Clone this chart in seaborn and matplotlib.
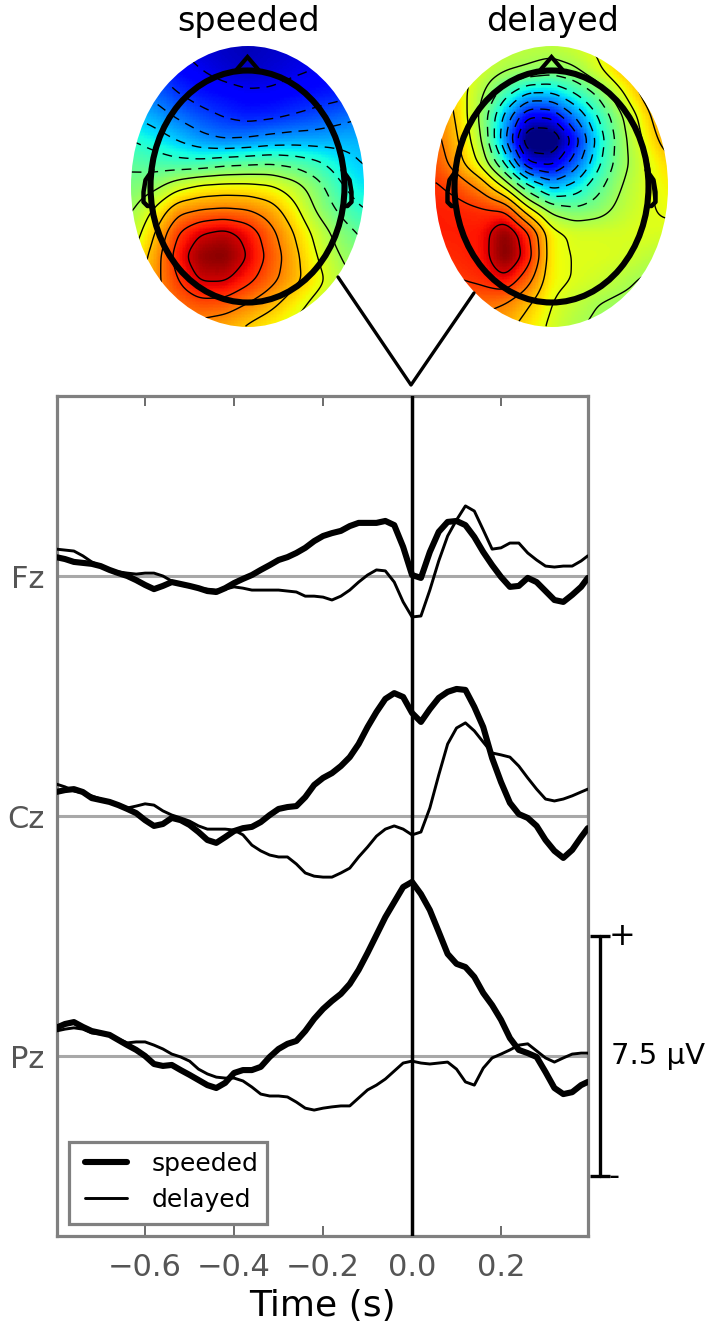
"""
Response-locked ERPs at Fz, Cz and Pz for speeded and delayed trials,
with the two scalp maps at time zero above them.
"""

import numpy as np
import matplotlib
matplotlib.use("Agg")
import matplotlib.pyplot as plt
from matplotlib.lines import Line2D
from matplotlib.patches import Ellipse, Rectangle
import seaborn as sns


CHANNELS = ["Fz", "Cz", "Pz"]
CHANNEL_OFFSETS = [7.5, 0.0, -7.5]
XTICKS = [-0.6, -0.4, -0.2, 0.0, 0.2]
SCALE_UV = 7.5

# sample times, last one is the end of the epoch
time_s = np.append(np.arange(-40, 20) * 0.02, 0.395)

# amplitudes in microvolts
fz_speeded = [
    .59, .53, .44, .41, .38, .31, .19, .09, 0, -.13, -.28, -.41, -.31, -.19, -.25, -.31,
    -.38, -.47, -.5, -.38, -.22, -.09, .03, .19, .34, .5, .59, .72, .88, 1.09, 1.25, 1.34,
    1.41, 1.56, 1.66, 1.66, 1.66, 1.72, 1.59, .91, .03, -.06, .75, 1.38, 1.69, 1.72, 1.59,
    1.22, .75, .34, -.03, -.34, -.31, -.06, -.19, -.47, -.75, -.81, -.59, -.34, -.06,
]
fz_delayed = [
    .84, .81, .78, .63, .44, .31, .19, .13, .09, .06, .09, .09, 0, -.16, -.28, -.34,
    -.38, -.41, -.44, -.41, -.34, -.38, -.44, -.44, -.44, -.44, -.47, -.5, -.63, -.63, -.66, -.75,
    -.63, -.44, -.19, .03, .19, .16, -.19, -.81, -1.28, -1.25, -.44, .47, 1.25, 1.75, 2.19,
    2.03, 1.44, .84, .88, 1.03, 1.03, .72, .5, .31, .28, .31, .31, .47, .63,
]
cz_speeded = [
    .75, .81, .84, .75, .56, .5, .44, .34, .22, .09, -.13, -.31, -.25, -.06, -.13, -.28,
    -.5, -.75, -.84, -.66, -.47, -.38, -.34, -.19, .03, .22, .28, .31, .59, .97, 1.19, 1.34,
    1.56, 1.84, 2.25, 2.78, 3.25, 3.66, 3.84, 3.72, 3.22, 2.94, 3.34, 3.69, 3.88, 3.97, 3.94,
    3.41, 2.78, 1.81, 1.06, .41, .06, -.06, -.31, -.75, -1.09, -1.31, -1.06, -.66, -.38,
]
cz_delayed = [
    1.0, .91, .78, .72, .63, .53, .44, .34, .25, .31, .38, .34, .16, .03, -.06, -.16,
    -.31, -.41, -.41, -.41, -.44, -.59, -.91, -1.09, -1.22, -1.28, -1.28, -1.5, -1.78, -1.88, -1.91, -1.91,
    -1.78, -1.63, -1.28, -.97, -.63, -.41, -.31, -.41, -.59, -.5, .25, 1.28, 2.25, 2.75, 2.91,
    2.66, 2.31, 1.97, 1.91, 1.84, 1.56, 1.19, .84, .53, .47, .53, .63, .75, .84,
]
pz_speeded = [
    .88, 1.0, 1.06, .91, .78, .72, .66, .5, .34, .19, 0, -.25, -.31, -.28, -.44, -.59,
    -.75, -.91, -1.0, -.84, -.53, -.44, -.44, -.34, -.03, .22, .38, .47, .78, 1.16, 1.47, 1.72,
    1.94, 2.25, 2.69, 3.22, 3.78, 4.34, 4.81, 5.28, 5.44, 5.06, 4.56, 3.88, 3.19, 2.88, 2.78,
    2.47, 1.97, 1.59, 1.13, .56, .19, .09, -.03, -.5, -1.0, -1.19, -1.13, -.91, -.81,
]
pz_delayed = [
    .78, .84, .88, .84, .72, .69, .66, .53, .41, .44, .44, .34, .22, .06, -.03, -.16,
    -.41, -.56, -.66, -.69, -.69, -.78, -.97, -1.19, -1.25, -1.25, -1.28, -1.44, -1.63, -1.69, -1.63, -1.59,
    -1.56, -1.56, -1.31, -1.06, -.91, -.72, -.47, -.22, -.16, -.22, -.25, -.22, -.19, -.41, -.81,
    -.91, -.38, -.06, .06, .19, .34, .38, .16, -.06, -.19, -.06, .06, .09, .09,
]

# scalp maps: normalised potential on a coarse grid over the map's bounding box
speeded_map = np.array([
    [-.60, -.70, -.80, -.85, -.88, -.90, -.88, -.85, -.80, -.75, -.70],
    [-.55, -.65, -.75, -.80, -.85, -.88, -.85, -.82, -.80, -.75, -.70],
    [-.45, -.55, -.65, -.72, -.75, -.78, -.78, -.75, -.72, -.70, -.65],
    [-.35, -.42, -.52, -.60, -.66, -.70, -.68, -.64, -.60, -.55, -.50],
    [-.20, -.27, -.36, -.45, -.50, -.48, -.44, -.42, -.42, -.40, -.40],
    [-.08, -.12, -.15, -.15, -.10, -.08, -.06, -.10, -.17, -.28, -.36],
    [.00, .06, .20, .28, .30, .30, .27, .17, .01, -.18, -.30],
    [.08, .27, .50, .55, .57, .55, .47, .30, .08, -.08, -.20],
    [.15, .40, .70, .85, .90, .80, .60, .40, .20, .03, -.08],
    [.25, .47, .78, .97, 1.0, .85, .65, .45, .25, .10, .00],
    [.30, .50, .70, .87, .87, .75, .60, .45, .30, .15, .08],
    [.35, .50, .60, .66, .65, .55, .45, .32, .20, .12, .08],
    [.35, .45, .50, .50, .45, .38, .30, .22, .15, .10, .08],
])
delayed_map = np.array([
    [.35, .32, .22, .18, .16, .16, .20, .28, .38, .48, .50],
    [.42, .33, .20, .12, .08, .03, .08, .22, .40, .50, .55],
    [.52, .32, .12, -.14, -.36, -.36, -.20, -.02, .22, .45, .62],
    [.57, .36, .05, -.40, -.80, -.78, -.50, -.20, .08, .32, .58],
    [.60, .40, .10, -.48, -1.12, -1.12, -.75, -.30, .04, .27, .48],
    [.65, .45, .20, -.22, -.80, -.85, -.58, -.24, .04, .22, .36],
    [.72, .65, .50, .22, -.16, -.40, -.30, -.10, .10, .22, .30],
    [.76, .75, .72, .68, .30, .05, -.02, .03, .15, .23, .27],
    [.76, .76, .78, 1.0, .72, .30, .22, .22, .22, .24, .22],
    [.72, .74, .78, 1.02, .78, .30, .24, .24, .22, .17, .12],
    [.68, .70, .73, .82, .60, .30, .24, .20, .14, .08, .06],
    [.62, .60, .60, .55, .42, .25, .17, .10, .07, .06, .05],
    [.55, .50, .50, .45, .33, .22, .12, .07, .06, .05, .05],
])

FIG_W, FIG_H = 716, 1331
GRAY = "#808080"


def px_axes(fig, left, top, right, bottom):
    """Add axes given in image pixels."""
    return fig.add_axes([
        left / FIG_W,
        1 - bottom / FIG_H,
        (right - left) / FIG_W,
        (bottom - top) / FIG_H,
    ])


def refine_grid(grid, factor=16):
    """Bilinear upsampling of a map followed by a small blur."""
    rows, cols = grid.shape
    xx = np.linspace(0, cols - 1, (cols - 1) * factor + 1)
    yy = np.linspace(0, rows - 1, (rows - 1) * factor + 1)
    fine = np.array([np.interp(xx, np.arange(cols), r) for r in grid])
    fine = np.array([np.interp(yy, np.arange(rows), c) for c in fine.T]).T

    kernel = np.hanning(factor + 3)
    kernel = kernel / kernel.sum()
    n = len(kernel) // 2
    padded = np.pad(fine, n, mode="edge")
    padded = np.apply_along_axis(lambda v: np.convolve(v, kernel, mode="same"), 0, padded)
    padded = np.apply_along_axis(lambda v: np.convolve(v, kernel, mode="same"), 1, padded)
    return padded[n:-n, n:-n]


def draw_scalp_map(fig, grid, left, right, top=46, bottom=327):
    ax = px_axes(fig, left, top, right, bottom)
    fine = refine_grid(grid)
    sns.heatmap(
        fine,
        cmap="jet",
        vmin=-1,
        vmax=1,
        cbar=False,
        xticklabels=False,
        yticklabels=False,
        ax=ax
    )
    outline = Ellipse((0.5, 0.5), 1, 1, transform=ax.transAxes, fc="none", ec="none")
    ax.add_patch(outline)
    ax.collections[0].set_clip_path(outline)

    x = np.arange(fine.shape[1]) + 0.5
    y = np.arange(fine.shape[0]) + 0.5
    lines = ax.contour(x, y, fine, levels=np.arange(-0.95, 1.0, 0.15), colors="black", linewidths=1.0)
    lines.set_clip_path(outline)
    ax.axis("off")


def draw_head(overlay, cx, cy=186.5, a=97, b=116):
    overlay.add_patch(Ellipse((cx, cy), 2 * a, 2 * b, fc="none", ec="black", lw=4.4))
    overlay.plot([cx - 12, cx, cx + 12], [71, 57, 71], color="black", lw=3, solid_joinstyle="miter")
    for side in (-1, 1):
        overlay.plot(
            [cx + side * (a - 2), cx + side * (a + 5), cx + side * (a + 7),
             cx + side * (a + 7), cx + side * (a + 3), cx + side * a],
            [170, 180, 192, 202, 206, 206],
            color="black",
            lw=3.2
        )


def main():
    sns.set_theme(style="white")
    plt.rcParams["font.family"] = ["DejaVu Sans"]
    plt.rcParams["contour.negative_linestyle"] = (0, (7, 5))

    fig = plt.figure(figsize=(FIG_W / 100, FIG_H / 100), dpi=100)

    # erp panel
    ax = px_axes(fig, 57, 396, 588, 1236)
    series = [
        (fz_speeded, fz_delayed),
        (cz_speeded, cz_delayed),
        (pz_speeded, pz_delayed),
    ]

    for offset in CHANNEL_OFFSETS:
        ax.axhline(offset, color="#a8a8a8", lw=2.2, zorder=1)
    ax.axvline(0, color="black", lw=2.5, zorder=3)

    for i, (speeded, delayed) in enumerate(series):
        sns.lineplot(
            x=time_s,
            y=np.array(delayed) + CHANNEL_OFFSETS[i],
            color="black",
            linewidth=2.1,
            solid_joinstyle="round",
            label="delayed" if i == 0 else None,
            ax=ax,
            zorder=4
        )
        sns.lineplot(
            x=time_s,
            y=np.array(speeded) + CHANNEL_OFFSETS[i],
            color="black",
            linewidth=4.4,
            solid_joinstyle="round",
            label="speeded" if i == 0 else None,
            ax=ax,
            zorder=5
        )

    ax.set_xlim(-0.798, 0.3955)
    ax.set_ylim(-13.125, 13.125)
    ax.set_xticks(XTICKS)
    ax.set_yticks(CHANNEL_OFFSETS)
    ax.set_yticklabels(CHANNELS)
    ax.tick_params(
        axis="both",
        direction="in",
        length=7.5,
        width=1.3,
        color="#606060",
        top=True,
        right=True,
        bottom=True,
        left=True,
        labelsize=22,
        labelcolor="#555555"
    )
    ax.tick_params(axis="x", pad=12)
    ax.tick_params(axis="y", pad=9)
    ax.set_xlabel("Time (s)", fontsize=26, color="black", labelpad=5)
    ax.set_ylabel("")
    for spine in ax.spines.values():
        spine.set_color(GRAY)
        spine.set_linewidth(2.3)

    # legend box is drawn apart, its right margin is tighter than the left one
    handles, labels = ax.get_legend_handles_labels()
    ax.add_patch(Rectangle(
        (12 / 531, 12 / 840), 198 / 531, 82 / 840,
        transform=ax.transAxes, fc="white", ec=GRAY, lw=2.3, zorder=6
    ))
    legend = ax.legend(
        handles[::-1],
        labels[::-1],
        loc="lower left",
        bbox_to_anchor=(28 / 531, 24 / 840),
        borderaxespad=0,
        borderpad=0,
        fontsize=18,
        frameon=False,
        labelcolor="black",
        handlelength=1.68,
        handletextpad=1.0,
        labelspacing=0.5
    )
    legend.set_zorder(7)

    # scale bar right of the panel, anchored on Pz
    bar_x = 0.4225
    bar_y = [CHANNEL_OFFSETS[2] + SCALE_UV / 2, CHANNEL_OFFSETS[2] - SCALE_UV / 2]
    ax.plot([bar_x, bar_x], bar_y, color="black", lw=2.4, clip_on=False,
            marker="_", markersize=14, markeredgewidth=2.4)
    ax.text(0.472, bar_y[0] - 0.03, "+", fontsize=23, ha="center", va="center", color="black")
    ax.text(0.455, bar_y[1] - 0.02, "-", fontsize=22, ha="center", va="center", color="black")
    ax.text(0.4475, CHANNEL_OFFSETS[2], "7.5 µV", fontsize=21, ha="left", va="center", color="black")

    # scalp maps
    draw_scalp_map(fig, speeded_map, 131, 364)
    draw_scalp_map(fig, delayed_map, 435, 668)

    overlay = fig.add_axes([0, 0, 1, 1])
    overlay.set_xlim(0, FIG_W)
    overlay.set_ylim(FIG_H, 0)
    overlay.axis("off")
    overlay.patch.set_alpha(0)
    draw_head(overlay, 247.5)
    draw_head(overlay, 551.5)
    overlay.add_line(Line2D([338, 411, 474], [277, 385, 293], color="black", lw=2.4))
    overlay.text(249, 21, "speeded", fontsize=24, ha="center", va="center", color="black")
    overlay.text(553, 21, "delayed", fontsize=24, ha="center", va="center", color="black")

    fig.savefig("out.png", dpi=100)


if __name__ == "__main__":
    main()
